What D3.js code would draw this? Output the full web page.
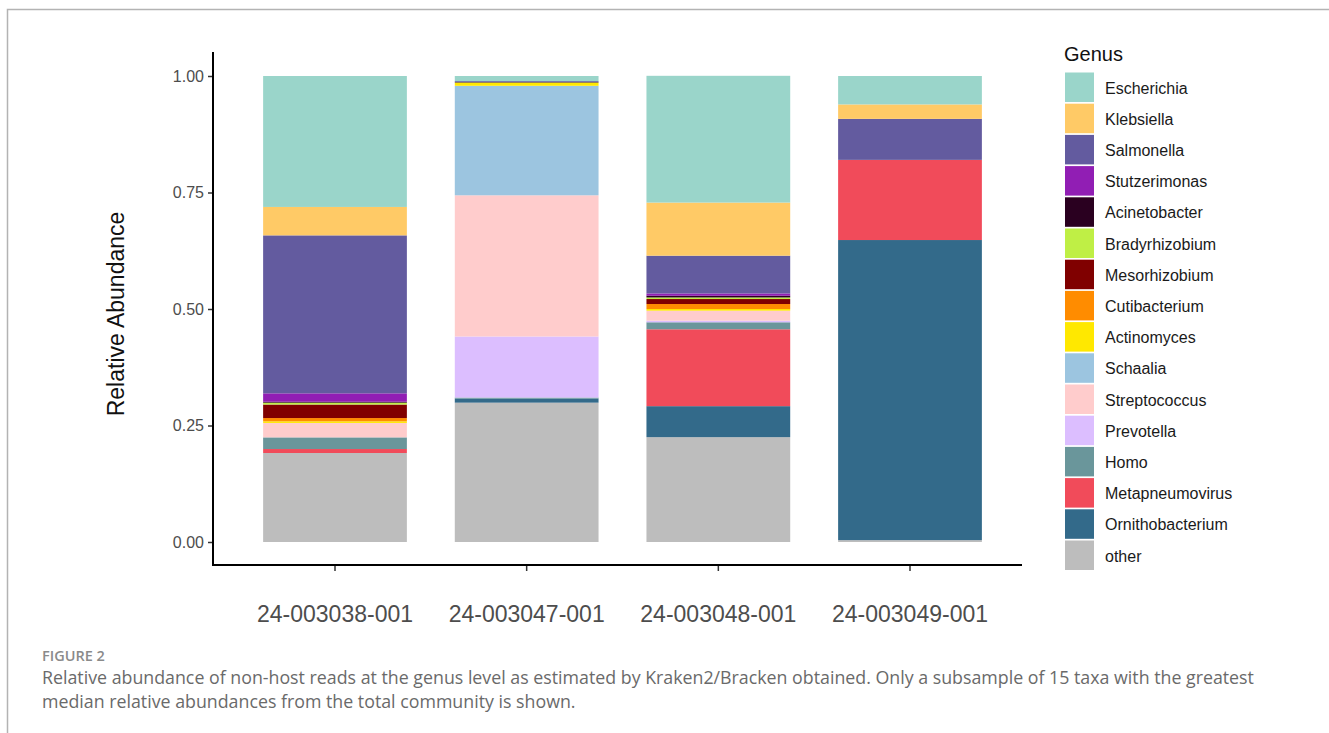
<!DOCTYPE html>
<html>
<head>
<meta charset="utf-8">
<script src="https://cdn.jsdelivr.net/npm/d3@7/dist/d3.min.js"></script>
<style>
  html, body { margin: 0; padding: 0; background: #fff; }
  svg { display: block; }
</style>
</head>
<body>
<svg id="chart" width="1329" height="733"></svg>
<script>
// ---- data ----
const samples = ["24-003038-001", "24-003047-001", "24-003048-001", "24-003049-001"];
const genera = ["Escherichia", "Klebsiella", "Salmonella", "Stutzerimonas", "Acinetobacter",
  "Bradyrhizobium", "Mesorhizobium", "Cutibacterium", "Actinomyces", "Schaalia",
  "Streptococcus", "Prevotella", "Homo", "Metapneumovirus", "Ornithobacterium", "other"];
const genusColors = ["#9AD5CA", "#FFCA66", "#635B9F", "#911EB4", "#2A0020",
  "#BFEF45", "#800000", "#FF8C00", "#FFE800", "#9CC5E0",
  "#FFCCCC", "#DCBEFF", "#6A969B", "#F14B5A", "#336A8A", "#BDBDBD"];
// values per sample, in genus order above
const s24_003038 = [0.281, 0.061, 0.339, 0.018, 0.002, 0.004, 0.029, 0.007, 0.0035, 0, 0.031, 0, 0.025, 0.0085, 0, 0.191];
const s24_003047 = [0.011, 0, 0.002, 0, 0.001, 0, 0, 0, 0.007, 0.235, 0.303, 0.131, 0.002, 0, 0.009, 0.299];
const s24_003048 = [0.272, 0.114, 0.081, 0.005, 0.0036, 0.0034, 0.0107, 0.0107, 0.0036, 0, 0.0215, 0.0034, 0.015, 0.165, 0.0665, 0.225];
const s24_003049 = [0.061, 0.031, 0.088, 0, 0, 0, 0, 0, 0, 0, 0, 0, 0, 0.172, 0.644, 0.004];
const yTicks = [0, 0.25, 0.5, 0.75, 1.0];
const captionHead = "FIGURE 2";
const captionLines = [
  "Relative abundance of non-host reads at the genus level as estimated by Kraken2/Bracken obtained. Only a subsample of 15 taxa with the greatest",
  "median relative abundances from the total community is shown."
];

// ---- build table ----
const sampleValues = [s24_003038, s24_003047, s24_003048, s24_003049];
const table = samples.map((s, i) => {
  const row = { sample: s };
  genera.forEach((g, j) => row[g] = sampleValues[i][j]);
  return row;
});
// stacking: "other" at bottom, Escherichia on top
const stackOrder = genera.slice().reverse();
const series = d3.stack().keys(stackOrder)(table);

const svg = d3.select("#chart");
const font = "'Liberation Sans', Arial, sans-serif";

// frame
svg.append("path")
  .attr("d", "M7.5,733 L7.5,9.5 L1329,9.5")
  .attr("fill", "none").attr("stroke", "#b3b3b3").attr("stroke-width", 1.5);

const x = d3.scaleBand().domain(samples).range([220, 1025]).paddingInner(0.25).paddingOuter(0.225);
const y = d3.scaleLinear().domain([0, 1]).range([542, 76]);
const color = d3.scaleOrdinal().domain(genera).range(genusColors);

// bars
const g = svg.append("g");
g.selectAll("g.layer").data(series).join("g")
  .attr("class", "layer")
  .attr("fill", d => color(d.key))
  .selectAll("rect").data(d => d).join("rect")
  .attr("x", d => x(d.data.sample))
  .attr("width", x.bandwidth())
  .attr("y", d => y(d[1]))
  .attr("height", d => Math.max(0, y(d[0]) - y(d[1])));

// y axis
const yAxis = svg.append("g").attr("transform", "translate(213,0)")
  .call(d3.axisLeft(y).tickValues(yTicks).tickFormat(d3.format(".2f")).tickSize(5).tickPadding(4));
yAxis.select(".domain").remove();
yAxis.selectAll(".tick line").attr("stroke", "#333").attr("stroke-width", 1.5);
yAxis.selectAll(".tick text").attr("font-family", font).attr("font-size", 16).attr("fill", "#4d4d4d");
svg.append("line").attr("x1", 213).attr("x2", 213).attr("y1", 52).attr("y2", 566)
  .attr("stroke", "#000").attr("stroke-width", 2);

// x axis
const xAxis = svg.append("g").attr("transform", "translate(0,565)")
  .call(d3.axisBottom(x).tickSize(6).tickPadding(0));
xAxis.select(".domain").remove();
xAxis.selectAll(".tick line").attr("stroke", "#333").attr("stroke-width", 1.5);
xAxis.selectAll(".tick text").attr("font-family", font).attr("font-size", 23)
  .attr("fill", "#4d4d4d").attr("dy", 0).attr("y", 57);
svg.append("line").attr("x1", 212).attr("x2", 1022).attr("y1", 565).attr("y2", 565)
  .attr("stroke", "#000").attr("stroke-width", 2);

// y title
svg.append("text")
  .attr("transform", "translate(124,314) rotate(-90)")
  .attr("text-anchor", "middle")
  .attr("font-family", font).attr("font-size", 23).attr("fill", "#111")
  .text("Relative Abundance");

// legend
const leg = svg.append("g").attr("transform", "translate(1064,0)");
leg.append("text").attr("x", 0).attr("y", 61)
  .attr("font-family", font).attr("font-size", 20).attr("fill", "#111").text("Genus");
const step = 31.2;
const items = leg.selectAll("g.item").data(genera).join("g")
  .attr("class", "item")
  .attr("transform", (d, i) => `translate(0,${72.5 + i * step})`);
items.append("rect").attr("x", 1).attr("y", 0).attr("width", 29).attr("height", 29.5)
  .attr("fill", d => color(d));
items.append("text").attr("x", 41).attr("y", 21)
  .attr("font-family", font).attr("font-size", 16).attr("fill", "#1a1a1a")
  .text(d => d);

// caption
const capFont = "'Open Sans', 'Noto Sans', sans-serif";
svg.append("text").attr("x", 42).attr("y", 661)
  .attr("font-family", capFont).attr("font-size", 14.5).attr("font-weight", 600)
  .attr("fill", "#8a8a8a").text(captionHead);
svg.selectAll("text.cap").data(captionLines).join("text")
  .attr("class", "cap")
  .attr("x", 42).attr("y", (d, i) => 684 + i * 23.5)
  .attr("font-family", capFont).attr("font-size", 17.8).attr("fill", "#6a6a6a")
  .text(d => d);
</script>
</body>
</html>
